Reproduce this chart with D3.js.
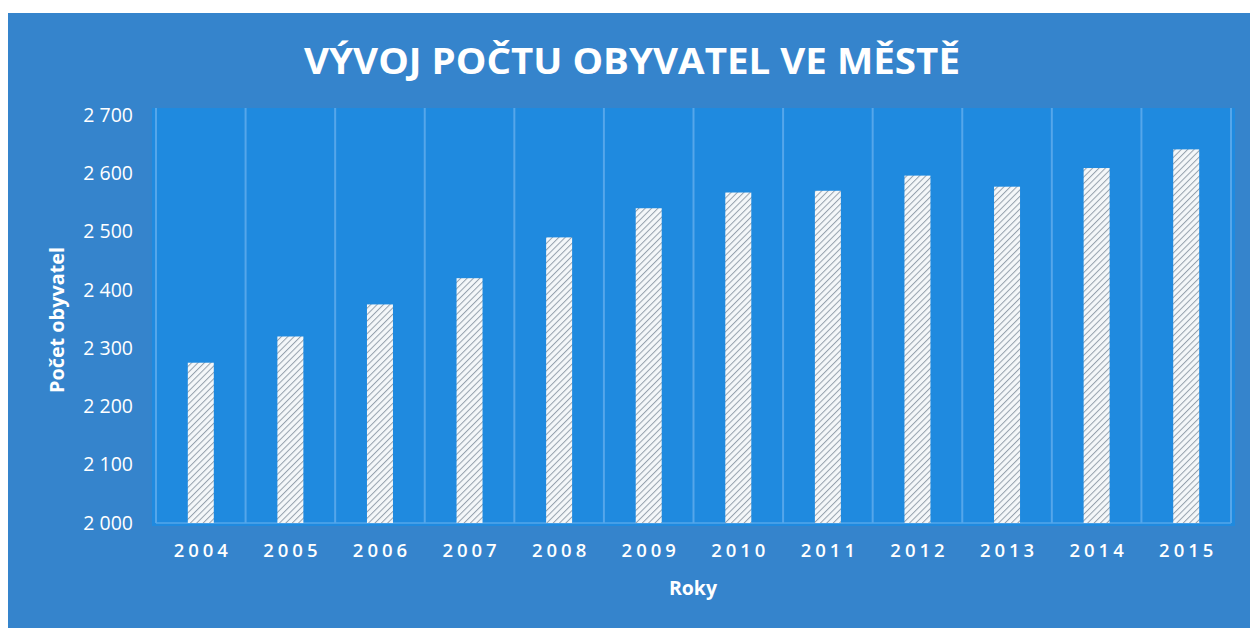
<!DOCTYPE html>
<html>
<head>
<meta charset="utf-8">
<script src="https://cdn.jsdelivr.net/npm/d3@7"></script>
<style>
  html, body { margin: 0; padding: 0; background: #fff; }
  svg { display: block; }
</style>
</head>
<body>
<div id="chart"></div>
<script>
// data
var years = ["2004", "2005", "2006", "2007", "2008", "2009", "2010", "2011", "2012", "2013", "2014", "2015"];
var population = [2275, 2320, 2375, 2420, 2490, 2540, 2567, 2570, 2596, 2577, 2609, 2641];
var yTicks = [2000, 2100, 2200, 2300, 2400, 2500, 2600, 2700];

var width = 1250;
var height = 628;

var outerColor = "#3584cc";
var plotColor = "#1f8adf";
var gridColor = "#55a6ea";

var margin = { left: 156, right: 19, top: 115, bottom: 105 };

var svg = d3.select("#chart").append("svg")
    .attr("width", width)
    .attr("height", height);

// hatch pattern for the bars
var defs = svg.append("defs");
var pat = defs.append("pattern")
    .attr("id", "hatch")
    .attr("patternUnits", "userSpaceOnUse")
    .attr("width", 4.5)
    .attr("height", 4.5)
    .attr("patternTransform", "rotate(45)");
pat.append("rect")
    .attr("width", 4.5).attr("height", 4.5)
    .attr("fill", "#f4f7f9");
pat.append("line")
    .attr("x1", 0).attr("y1", 0)
    .attr("x2", 0).attr("y2", 4.5)
    .attr("stroke", "#95a1ad")
    .attr("stroke-width", 2);

// outer background
svg.append("rect")
    .attr("x", 8).attr("y", 13)
    .attr("width", width - 8).attr("height", height - 13)
    .attr("fill", outerColor);

var x = d3.scaleBand()
    .domain(years)
    .range([margin.left, width - margin.right])
    .paddingInner(0.71)
    .paddingOuter(0.355);

var y = d3.scaleLinear()
    .domain([2000, 2700])
    .range([height - margin.bottom, margin.top]);

// plot area
svg.append("rect")
    .attr("x", 152).attr("y", 108)
    .attr("width", 1235 - 152).attr("height", 526 - 108)
    .attr("fill", plotColor);

// vertical grid lines between categories
var bounds = d3.range(years.length + 1).map(function(i) { return margin.left + i * x.step(); });
svg.selectAll(".grid")
    .data(bounds)
    .enter()
    .append("line")
    .attr("x1", function(d) { return d; })
    .attr("x2", function(d) { return d; })
    .attr("y1", 108)
    .attr("y2", y(2000))
    .attr("stroke", gridColor)
    .attr("stroke-width", 2);

svg.append("line")
    .attr("x1", margin.left).attr("x2", width - margin.right)
    .attr("y1", y(2000)).attr("y2", y(2000))
    .attr("stroke", gridColor)
    .attr("stroke-width", 1.5);

// bars
svg.selectAll(".bar")
    .data(population)
    .enter()
    .append("rect")
    .attr("x", function(d, i) { return x(years[i]); })
    .attr("y", function(d) { return y(d); })
    .attr("width", x.bandwidth())
    .attr("height", function(d) { return y(2000) - y(d); })
    .attr("fill", "url(#hatch)");

// y axis
var yAxis = svg.append("g")
    .attr("transform", "translate(133,0)")
    .call(d3.axisLeft(y).tickValues(yTicks).tickSize(0).tickPadding(0)
        .tickFormat(function(d) { return d3.format(",")(d).replace(",", " "); }));
yAxis.select(".domain").remove();
yAxis.selectAll("text")
    .attr("fill", "#fff")
    .attr("font-family", "'Open Sans', sans-serif")
    .attr("font-size", "19.5px");

// x axis
var xAxis = svg.append("g")
    .attr("transform", "translate(0," + y(2000) + ")")
    .call(d3.axisBottom(x).tickSize(0).tickPadding(0));
xAxis.select(".domain").remove();
xAxis.selectAll("text")
    .attr("fill", "#fff")
    .attr("font-family", "'Open Sans', sans-serif")
    .attr("font-size", "18.5px")
    .attr("font-weight", 600)
    .attr("letter-spacing", "4px")
    .attr("dx", "2px")
    .attr("dy", "34px");

// titles
svg.append("text")
    .attr("x", 632)
    .attr("y", 74)
    .attr("text-anchor", "middle")
    .attr("fill", "#fff")
    .attr("font-family", "'Open Sans', sans-serif")
    .attr("font-weight", "bold")
    .attr("font-size", "36px")
    .attr("textLength", 656)
    .attr("lengthAdjust", "spacingAndGlyphs")
    .text("VÝVOJ POČTU OBYVATEL VE MĚSTĚ");

svg.append("text")
    .attr("x", 693)
    .attr("y", 595)
    .attr("text-anchor", "middle")
    .attr("fill", "#fff")
    .attr("font-family", "'Open Sans', sans-serif")
    .attr("font-weight", "bold")
    .attr("font-size", "19.5px")
    .text("Roky");

svg.append("text")
    .attr("transform", "translate(64,320) rotate(-90)")
    .attr("text-anchor", "middle")
    .attr("fill", "#fff")
    .attr("font-family", "'Open Sans', sans-serif")
    .attr("font-weight", "bold")
    .attr("font-size", "19px")
    .attr("textLength", 146)
    .attr("lengthAdjust", "spacingAndGlyphs")
    .text("Počet obyvatel");
</script>
</body>
</html>
